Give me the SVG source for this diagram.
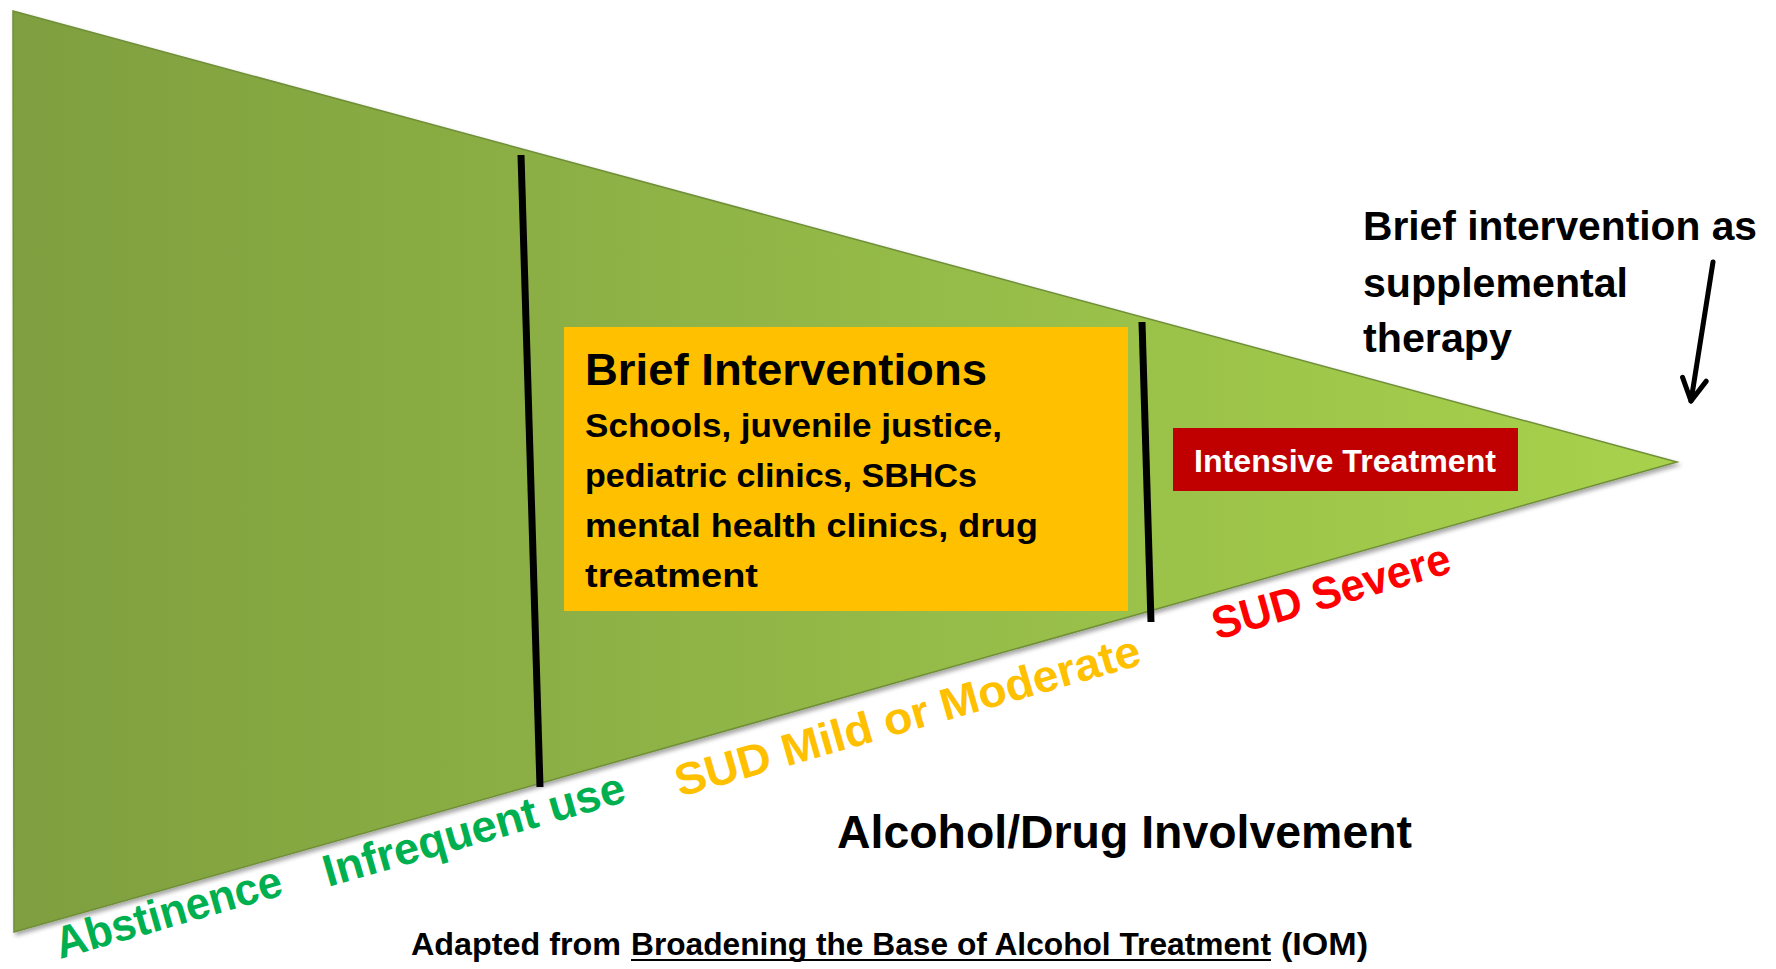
<svg xmlns="http://www.w3.org/2000/svg" width="1776" height="969" viewBox="0 0 1776 969">
  <defs>
    <linearGradient id="wedgeFill" gradientUnits="userSpaceOnUse" x1="13" y1="0" x2="1677" y2="0">
      <stop offset="0" stop-color="#7f9f3f"/>
      <stop offset="0.55" stop-color="#95bb48"/>
      <stop offset="1" stop-color="#a8d24d"/>
    </linearGradient>
    <filter id="softShadow" x="-5%" y="-5%" width="110%" height="110%">
      <feDropShadow dx="2" dy="3" stdDeviation="2" flood-color="#000" flood-opacity="0.35"/>
    </filter>
    <marker id="openHead" markerUnits="userSpaceOnUse" markerWidth="40" markerHeight="40" viewBox="-30 -20 40 40" refX="0" refY="0" orient="auto">
      <path d="M-22,-12 L0,0 L-22,12" fill="none" stroke="#000" stroke-width="5" stroke-linecap="round" stroke-linejoin="round"/>
    </marker>
    <style>
      text { font-family: "Liberation Sans", Arial, sans-serif; font-weight: bold; }
      .dark { fill: #000; }
      .stage { font-size: 45px; }
      .green { fill: #00b050; }
      .amber { fill: #ffc000; }
      .red { fill: #ff0000; }
      .divider { stroke: #000; stroke-width: 7; fill: none; }
      .pointer { stroke: #000; stroke-width: 5; stroke-linecap: round; fill: none; }
    </style>
  </defs>

  <rect width="1776" height="969" fill="#ffffff"/>

  <!-- continuum wedge -->
  <g id="wedge">
    <polygon points="13,11 14,932 1677,462" fill="url(#wedgeFill)" stroke="#6f8f38" stroke-width="1.5" filter="url(#softShadow)"/>
  </g>

  <!-- stage dividers -->
  <g id="dividers">
    <line class="divider" x1="521" y1="155" x2="540" y2="787"/>
    <line class="divider" x1="1142" y1="322" x2="1151" y2="622"/>
  </g>

  <!-- brief interventions box -->
  <g id="brief-interventions">
    <rect x="564" y="327" width="564" height="284" fill="#ffc000"/>
    <text class="dark" x="585" y="385" font-size="45" textLength="402" lengthAdjust="spacingAndGlyphs">Brief Interventions</text>
    <text class="dark" x="585" y="437" font-size="34" textLength="417" lengthAdjust="spacingAndGlyphs">Schools, juvenile justice,</text>
    <text class="dark" x="585" y="487" font-size="34" textLength="392" lengthAdjust="spacingAndGlyphs">pediatric clinics, SBHCs</text>
    <text class="dark" x="585" y="537" font-size="34" textLength="453" lengthAdjust="spacingAndGlyphs">mental health clinics, drug</text>
    <text class="dark" x="585" y="587" font-size="34" textLength="173" lengthAdjust="spacingAndGlyphs">treatment</text>
  </g>

  <!-- intensive treatment box -->
  <g id="intensive-treatment">
    <rect x="1173" y="428" width="345" height="63" fill="#c00000"/>
    <text x="1194" y="472" font-size="32" fill="#ffffff" textLength="302" lengthAdjust="spacingAndGlyphs">Intensive Treatment</text>
  </g>

  <!-- supplemental note -->
  <g id="supplemental-note">
    <text class="dark" x="1363" y="240" font-size="41" textLength="394" lengthAdjust="spacingAndGlyphs">Brief intervention as</text>
    <text class="dark" x="1363" y="297" font-size="41" textLength="265" lengthAdjust="spacingAndGlyphs">supplemental</text>
    <text class="dark" x="1363" y="352" font-size="41" textLength="149" lengthAdjust="spacingAndGlyphs">therapy</text>
  </g>

  <!-- stage labels along the lower edge -->
  <g id="stage-labels">
    <text class="stage green" transform="translate(60,959) rotate(-16)" textLength="234" lengthAdjust="spacingAndGlyphs">Abstinence</text>
    <text class="stage green" transform="translate(328,887) rotate(-16)" textLength="312" lengthAdjust="spacingAndGlyphs">Infrequent use</text>
    <text class="stage amber" transform="translate(680,797) rotate(-16)" textLength="482" lengthAdjust="spacingAndGlyphs">SUD Mild or Moderate</text>
    <text class="stage red" transform="translate(1217,640) rotate(-16)" textLength="246" lengthAdjust="spacingAndGlyphs">SUD Severe</text>
  </g>

  <!-- axis title -->
  <g id="axis-title">
    <text class="dark" x="837" y="848" font-size="46" textLength="575" lengthAdjust="spacingAndGlyphs">Alcohol/Drug Involvement</text>
  </g>

  <!-- source line -->
  <g id="source">
    <text class="dark" x="411" y="955" font-size="32" textLength="210" lengthAdjust="spacingAndGlyphs">Adapted from</text>
    <text class="dark" x="631" y="955" font-size="32" textLength="640" lengthAdjust="spacingAndGlyphs">Broadening the Base of Alcohol Treatment</text>
    <line x1="631" y1="960" x2="1271" y2="960" stroke="#000" stroke-width="2"/>
    <text class="dark" x="1281" y="955" font-size="32" textLength="87" lengthAdjust="spacingAndGlyphs">(IOM)</text>
  </g>

  <!-- connectors -->
  <g id="connectors">
    <line class="pointer" x1="1713" y1="262" x2="1691" y2="401" marker-end="url(#openHead)"/>
  </g>
</svg>
